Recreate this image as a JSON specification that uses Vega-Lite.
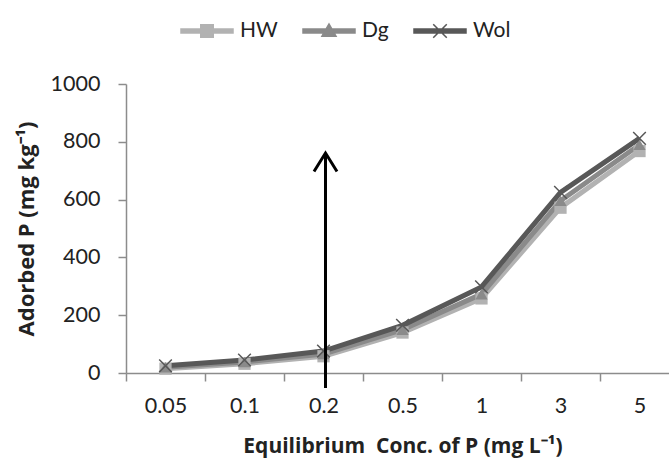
{
  "$schema": "https://vega.github.io/schema/vega-lite/v6.json",
  "width": 553,
  "height": 289,
  "autosize": {"type": "none"},
  "padding": {"left": 126, "top": 84, "right": -10, "bottom": 86},
  "background": "white",
  "config": {
    "font": "Lato",
    "view": {"stroke": null},
    "axis": {
      "labelFont": "Lato",
      "labelFontSize": 21.5,
      "labelColor": "#222222",
      "titleFont": "Open Sans",
      "titleFontWeight": "bold",
      "titleColor": "#222222",
      "domainColor": "#8c8c8c",
      "tickColor": "#8c8c8c",
      "domainWidth": 1.5,
      "tickWidth": 1.5,
      "grid": false
    }
  },
  "datasets": {
    "series": [
      {"series": "HW", "conc": "0.05", "p": 15},
      {"series": "HW", "conc": "0.1", "p": 32},
      {"series": "HW", "conc": "0.2", "p": 58},
      {"series": "HW", "conc": "0.5", "p": 140},
      {"series": "HW", "conc": "1", "p": 258},
      {"series": "HW", "conc": "3", "p": 572},
      {"series": "HW", "conc": "5", "p": 768},
      {"series": "Dg", "conc": "0.05", "p": 20},
      {"series": "Dg", "conc": "0.1", "p": 38},
      {"series": "Dg", "conc": "0.2", "p": 66},
      {"series": "Dg", "conc": "0.5", "p": 150},
      {"series": "Dg", "conc": "1", "p": 273},
      {"series": "Dg", "conc": "3", "p": 596},
      {"series": "Dg", "conc": "5", "p": 790},
      {"series": "Wol", "conc": "0.05", "p": 25},
      {"series": "Wol", "conc": "0.1", "p": 45},
      {"series": "Wol", "conc": "0.2", "p": 76},
      {"series": "Wol", "conc": "0.5", "p": 165},
      {"series": "Wol", "conc": "1", "p": 298},
      {"series": "Wol", "conc": "3", "p": 625},
      {"series": "Wol", "conc": "5", "p": 812}
    ],
    "arrow": [{"conc": "0.2", "start": -52, "end": 761}]
  },
  "layer": [
    {
      "data": {"name": "series"},
      "mark": {"type": "line", "strokeWidth": 5},
      "encoding": {
        "x": {
          "field": "conc",
          "type": "ordinal",
          "sort": ["0.05", "0.1", "0.2", "0.5", "1", "3", "5"],
          "scale": {"paddingInner": 0, "paddingOuter": 0},
          "axis": {
            "title": "Equilibrium\u00a0\u00a0Conc. of P (mg L⁻¹)",
            "titleFontSize": 21,
            "labelAngle": 0,
            "tickBand": "extent",
            "tickSize": 8,
            "labelPadding": 14,
            "titlePadding": 19
          }
        },
        "y": {
          "field": "p",
          "type": "quantitative",
          "scale": {"domain": [0, 1000], "nice": false},
          "axis": {
            "title": "Adorbed P (mg kg⁻¹)",
            "titleFontSize": 22,
            "format": "d",
            "values": [0, 200, 400, 600, 800, 1000],
            "tickSize": 8,
            "labelPadding": 18,
            "titlePadding": 12
          }
        },
        "color": {
          "field": "series",
          "type": "nominal",
          "sort": ["HW", "Dg", "Wol"],
          "scale": {"domain": ["HW", "Dg", "Wol"], "range": ["#b2b2b2", "#8a8a8a", "#585858"]},
          "legend": {
            "orient": "none",
            "legendX": 54,
            "legendY": -80,
            "direction": "horizontal",
            "title": null,
            "padding": 0,
            "symbolSize": 2704,
            "labelFontSize": 21,
            "labelFont": "Lato",
            "labelColor": "#222222",
            "labelOffset": 6,
            "columnPadding": 22,
            "encode": {
              "symbols": {
                "update": {
                  "shape": {"signal": "datum.value === 'HW' ? 'M-1,-0.08H1V0.08H-1Z M-0.24,-0.24H0.24V0.24H-0.24Z' : datum.value === 'Dg' ? 'M-1,-0.08H1V0.08H-1Z M-0.27,0.2L0,-0.27L0.27,0.2Z' : 'M-1,-0.08H1V0.08H-1Z M-0.26,-0.26L0.26,0.26 M-0.26,0.26L0.26,-0.26'"},
                  "fill": {"scale": "color", "field": "value"},
                  "stroke": {"scale": "color", "field": "value"},
                  "strokeWidth": {"value": 1.5},
                  "opacity": {"value": 1}
                }
              }
            }
          }
        }
      }
    },
    {
      "data": {"name": "series"},
      "transform": [{"filter": "datum.series !== 'Wol'"}],
      "mark": {"type": "point", "filled": true, "opacity": 1, "size": 150},
      "encoding": {
        "x": {"field": "conc", "type": "ordinal", "sort": ["0.05", "0.1", "0.2", "0.5", "1", "3", "5"]},
        "y": {"field": "p", "type": "quantitative"},
        "shape": {
          "field": "series",
          "type": "nominal",
          "scale": {"domain": ["HW", "Dg"], "range": ["square", "triangle-up"]},
          "legend": null
        },
        "fill": {
          "field": "series",
          "type": "nominal",
          "scale": {"domain": ["HW", "Dg"], "range": ["#b2b2b2", "#8a8a8a"]},
          "legend": null
        }
      }
    },
    {
      "data": {"name": "series"},
      "transform": [{"filter": "datum.series === 'Wol'"}],
      "mark": {"type": "point", "shape": "M-1,-1L1,1M-1,1L1,-1", "filled": false, "opacity": 1, "size": 160, "strokeWidth": 1.5, "color": "#585858"},
      "encoding": {
        "x": {"field": "conc", "type": "ordinal", "sort": ["0.05", "0.1", "0.2", "0.5", "1", "3", "5"]},
        "y": {"field": "p", "type": "quantitative"}
      }
    },
    {
      "data": {"name": "arrow"},
      "mark": {"type": "rule", "strokeWidth": 3, "color": "#000000", "xOffset": 2},
      "encoding": {
        "x": {"field": "conc", "type": "ordinal", "sort": ["0.05", "0.1", "0.2", "0.5", "1", "3", "5"]},
        "y": {"field": "start", "type": "quantitative"},
        "y2": {"field": "end"}
      }
    },
    {
      "data": {"name": "arrow"},
      "mark": {"type": "point", "shape": "M-1,1.6L0,0L1,1.6", "filled": false, "opacity": 1, "size": 529, "strokeWidth": 3, "color": "#000000", "xOffset": 2},
      "encoding": {
        "x": {"field": "conc", "type": "ordinal", "sort": ["0.05", "0.1", "0.2", "0.5", "1", "3", "5"]},
        "y": {"field": "end", "type": "quantitative"}
      }
    }
  ],
  "resolve": {"scale": {"fill": "independent"}}
}
